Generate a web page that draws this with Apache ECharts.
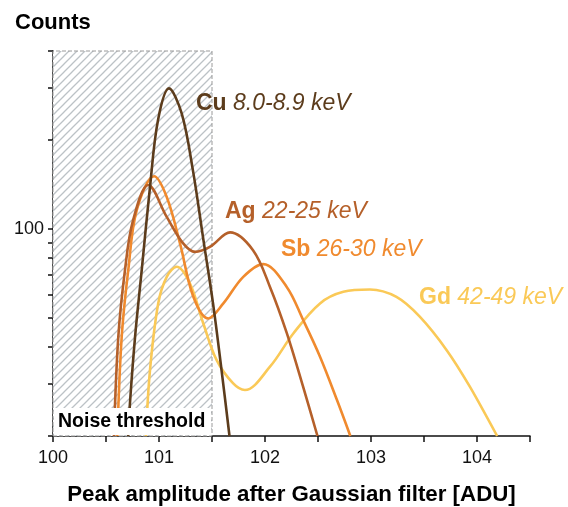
<!DOCTYPE html>
<html>
<head>
<meta charset="utf-8">
<script src="https://cdn.jsdelivr.net/npm/echarts@6/dist/echarts.min.js"></script>
<style>
html,body{margin:0;padding:0;background:#fff;}
#chart{width:568px;height:507px;}
</style>
</head>
<body>
<div id="chart"></div>
<script>
// ---- data ----
const xTickLabels = [100, 101, 102, 103, 104];
const yTickLabels = [100];
const yMinorTicks = [20, 30, 40, 50, 60, 70, 80, 90, 100, 200, 300, 400];
const noiseThreshold = [100, 101.5];

const seriesNames = ['Cu', 'Ag', 'Sb', 'Gd'];
const seriesRanges = ['8.0-8.9 keV', '22-25 keV', '26-30 keV', '42-49 keV'];

const cuX = [100.71, 100.726, 100.774, 100.837, 100.915, 100.99, 101.094, 101.214, 101.32, 101.415, 101.51, 101.59, 101.665];
const cuY = [20, 25.8, 43.2, 72.7, 138.7, 233, 299, 246, 158, 94, 56, 33.4, 20];

const agX = [100.575, 100.616, 100.679, 100.755, 100.899, 101.073, 101.226, 101.34, 101.48, 101.67, 101.887, 102.047, 102.205, 102.36, 102.495];
const agY = [20, 43.2, 72.7, 107, 141, 110, 89.7, 83.8, 87.1, 97.5, 84.9, 63.8, 44.6, 29.3, 20];

const sbX = [100.607, 100.648, 100.71, 100.79, 100.953, 101.073, 101.198, 101.324, 101.465, 101.607, 101.795, 101.984, 102.205, 102.36, 102.52, 102.68, 102.805];
const sbY = [20, 43.2, 72.7, 115.9, 151, 128.5, 89.5, 59.1, 49.9, 56.1, 69, 76.2, 63.8, 49.3, 37, 26.4, 20];

const gdX = [100.877, 100.915, 100.993, 101.073, 101.167, 101.292, 101.418, 101.544, 101.70, 101.81, 102.047, 102.267, 102.519, 102.739, 102.99, 103.24, 103.46, 103.714, 103.934, 104.19];
const gdY = [20, 33.4, 56.2, 69, 74.6, 65.5, 48, 36.1, 30.1, 28.6, 34.3, 44.4, 56.1, 61.4, 62.5, 59, 50.6, 39, 29.3, 20];

const colors = ['#5C3C1C', '#B5602A', '#F08A2E', '#FAC957'];
const xs = [cuX, agX, sbX, gdX];
const ys = [cuY, agY, sbY, gdY];

// hatch pattern
const pat = document.createElement('canvas');
pat.width = 8; pat.height = 8;
const pc = pat.getContext('2d');
pc.fillStyle = '#ffffff'; pc.fillRect(0, 0, 8, 8);
pc.strokeStyle = '#bcc2c6'; pc.lineWidth = 1.3;
pc.beginPath();
pc.moveTo(-1, 9); pc.lineTo(9, -1);
pc.moveTo(-1, 1); pc.lineTo(1, -1);
pc.moveTo(7, 9); pc.lineTo(9, 7);
pc.stroke();

const FONT = '"Liberation Sans", Arial, Helvetica, sans-serif';

const chart = echarts.init(document.getElementById('chart'), null, {renderer: 'canvas'});

const series = seriesNames.map((n, i) => ({
  name: n,
  type: 'line',
  smooth: 0.35,
  symbol: 'none',
  data: xs[i].map((x, j) => [x, ys[i][j]]),
  lineStyle: {color: colors[i], width: 2.6},
  z: 10 - i,
  silent: true
}));

series.push({
  type: 'line',
  data: [],
  silent: true,
  markArea: {
    silent: true,
    itemStyle: {
      color: {image: pat, repeat: 'repeat'},
      borderColor: '#9a9a9a',
      borderWidth: 1,
      borderType: 'dashed'
    },
    data: [[{xAxis: noiseThreshold[0], yAxis: 20}, {xAxis: noiseThreshold[1], yAxis: 400}]]
  },
  z: 1
});

const labelPos = [[196, 104], [225, 212], [281, 250], [419, 298]];

chart.setOption({
  animation: false,
  grid: {left: 53, right: 38, top: 51, bottom: 71, containLabel: false, outerBoundsMode: 'none'},
  xAxis: {
    type: 'value',
    min: 100, max: 104.5, interval: 0.5,
    axisLine: {show: true, onZero: false, lineStyle: {color: '#111', width: 1.5}},
    axisTick: {show: true, length: 6, lineStyle: {color: '#111', width: 1.5}},
    splitLine: {show: false},
    axisLabel: {
      margin: 13,
      fontSize: 18, color: '#111', fontFamily: FONT,
      formatter: v => (xTickLabels.indexOf(Math.round(v * 10) / 10) >= 0 ? String(v) : '')
    },
    name: 'Peak amplitude after Gaussian filter [ADU]',
    nameLocation: 'middle',
    nameGap: 48,
    nameTextStyle: {fontSize: 22.3, fontWeight: 'bold', color: '#000', fontFamily: FONT}
  },
  yAxis: {
    type: 'log',
    logBase: 10,
    min: 20, max: 400,
    axisLine: {show: true, lineStyle: {color: '#111', width: 1.5}},
    axisTick: {show: true, length: 5, customValues: yMinorTicks, lineStyle: {color: '#111', width: 1.5}},
    splitLine: {show: false},
    axisLabel: {
      customValues: yTickLabels,
      margin: 9,
      fontSize: 18, color: '#111', fontFamily: FONT
    }
  },
  series: series,
  graphic: [
    {
      type: 'text', left: 15, top: 12, z: 100,
      style: {text: 'Counts', fontSize: 22, fontWeight: 'bold', fill: '#000', fontFamily: FONT}
    },
    {
      type: 'rect', z: 100,
      shape: {x: 54, y: 408, width: 157, height: 27},
      style: {fill: '#fff'}
    },
    {
      type: 'text', z: 101, x: 58, y: 422,
      style: {text: 'Noise threshold', fontSize: 19.5, fontWeight: 'bold', fill: '#000', fontFamily: FONT, verticalAlign: 'middle'}
    }
  ].concat(seriesNames.map((n, i) => ({
    type: 'text', z: 101, x: labelPos[i][0], y: labelPos[i][1],
    style: {
      text: '{b|' + n + ' }{i|' + seriesRanges[i] + '}',
      verticalAlign: 'middle',
      rich: {
        b: {fontSize: 23, fontWeight: 'bold', fill: colors[i], color: colors[i], fontFamily: FONT},
        i: {fontSize: 23, fontStyle: 'italic', fill: colors[i], color: colors[i], fontFamily: FONT}
      }
    }
  })))
});
</script>
</body>
</html>
